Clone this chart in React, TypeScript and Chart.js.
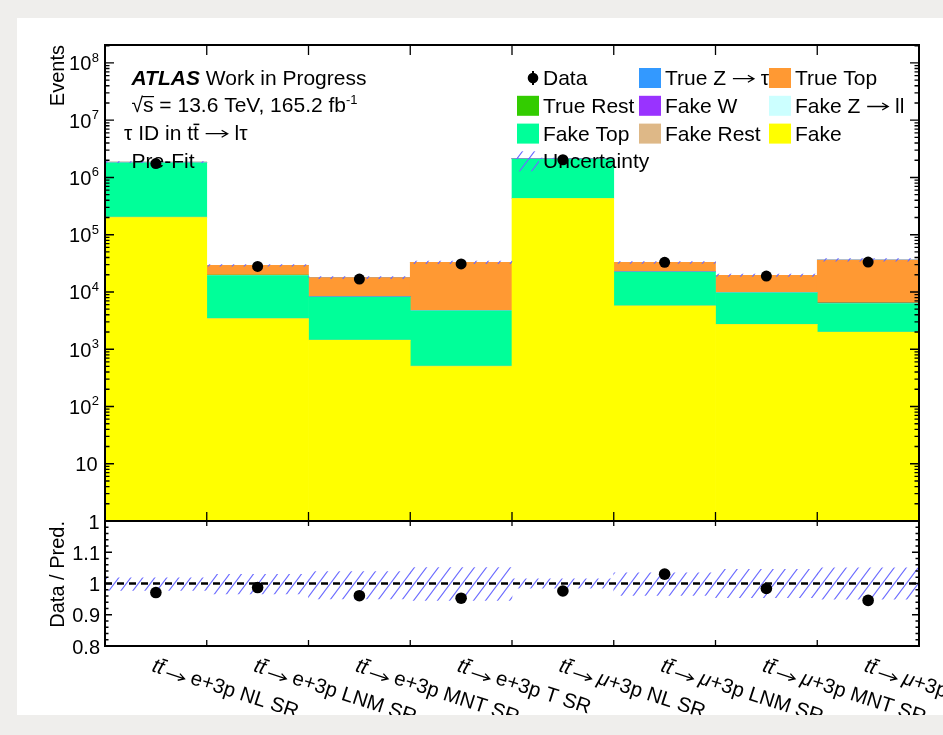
import React, { useEffect, useRef } from "react";
import { Chart, registerables } from "chart.js";

Chart.register(...registerables);

const FONT = '"Liberation Sans", Arial, Helvetica, sans-serif';

// ---------------- data ----------------
const categories = [
  "tt̄ → e+3p NL SR",
  "tt̄ → e+3p LNM SR",
  "tt̄ → e+3p MNT SR",
  "tt̄ → e+3p T SR",
  "tt̄ → μ+3p NL SR",
  "tt̄ → μ+3p LNM SR",
  "tt̄ → μ+3p MNT SR",
  "tt̄ → μ+3p T SR",
];

// stacked predictions (bottom to top)
const fake = [2.0e5, 3400, 1430, 500, 4.3e5, 5700, 2690, 1970];
const fakeRest = [3000, 30, 15, 10, 3000, 40, 20, 15];
const fakeTop = [1.6e6, 15900, 6720, 4160, 1.67e6, 16600, 6910, 4280];
const fakeZll = [500, 20, 10, 5, 600, 20, 10, 10];
const fakeW = [20000, 250, 120, 80, 25000, 350, 150, 120];
const trueRest = [5000, 100, 60, 50, 6000, 120, 60, 60];
const trueTop = [30000, 9500, 9500, 28000, 20000, 10000, 9700, 29800];
const trueZtt = [2000, 80, 50, 60, 2500, 90, 60, 70];

const dataCounts = [1.75e6, 28000, 16800, 30900, 2.04e6, 32900, 19000, 33300];
const ratioValues = [0.971, 0.987, 0.961, 0.953, 0.976, 1.03, 0.984, 0.946];
const relUncUp = [0.018, 0.029, 0.038, 0.051, 0.015, 0.034, 0.045, 0.05];
const relUncDown = [0.022, 0.033, 0.049, 0.054, 0.015, 0.038, 0.045, 0.05];

const mainDecades = [0, 1, 2, 3, 4, 5, 6, 7, 8];
const ratioTickLabels = [0.8, 0.9, 1.0, 1.1];
const yMin = 1;
const yMax = 2.06e8;
const rMin = 0.8;
const rMax = 1.2;

const seriesDefs = [
  { label: "Fake", data: fake, color: "#ffff00" },
  { label: "Fake Rest", data: fakeRest, color: "#deb887" },
  { label: "Fake Top", data: fakeTop, color: "#00ff99" },
  { label: "Fake Z → ll", data: fakeZll, color: "#ccffff" },
  { label: "Fake W", data: fakeW, color: "#9933ff" },
  { label: "True Rest", data: trueRest, color: "#33cc00" },
  { label: "True Top", data: trueTop, color: "#ff9933" },
  { label: "True Z → ττ", data: trueZtt, color: "#3399ff" },
];

const legendRows = [
  ["Data", "True Z → ττ", "True Top"],
  ["True Rest", "Fake W", "Fake Z → ll"],
  ["Fake Top", "Fake Rest", "Fake"],
  ["Uncertainty"],
];

// ---------------- helpers ----------------
function makeHatch(ctxSrc: HTMLCanvasElement): CanvasPattern | string {
  const c = document.createElement("canvas");
  c.width = 12;
  c.height = 16;
  const g = c.getContext("2d");
  if (!g) return "rgba(100,100,255,0.5)";
  g.strokeStyle = "#6b6bff";
  g.lineWidth = 1.1;
  g.beginPath();
  g.moveTo(0, 16);
  g.lineTo(12, 0);
  g.moveTo(-1.5, 2);
  g.lineTo(1.5, -2);
  g.moveTo(10.5, 18);
  g.lineTo(13.5, 14);
  g.stroke();
  const p = ctxSrc.getContext("2d")!.createPattern(c, "repeat");
  return p || "rgba(100,100,255,0.5)";
}

function drawArrow(ctx: CanvasRenderingContext2D, x: number, y: number, len: number) {
  ctx.save();
  ctx.strokeStyle = "#000";
  ctx.lineWidth = 1.3;
  ctx.beginPath();
  ctx.moveTo(x, y);
  ctx.lineTo(x + len, y);
  ctx.moveTo(x + len - 6, y - 3.5);
  ctx.lineTo(x + len, y);
  ctx.lineTo(x + len - 6, y + 3.5);
  ctx.stroke();
  ctx.restore();
}

type Run = { t: string; f?: string; dy?: number; bar?: boolean; arrow?: number };
function drawRuns(ctx: CanvasRenderingContext2D, x: number, y: number, runs: Run[], size = 21) {
  let cx = x;
  for (const r of runs) {
    ctx.font = r.f || `${size}px ${FONT}`;
    if (r.arrow) {
      drawArrow(ctx, cx + 1, y - size * 0.3, r.arrow - 2);
      cx += r.arrow;
      continue;
    }
    ctx.fillText(r.t, cx, y + (r.dy || 0));
    const w = ctx.measureText(r.t).width;
    if (r.bar) ctx.fillRect(cx + 0.5, y - size * 0.78, w, 1.5);
    cx += w;
  }
  return cx;
}

function splitLegend(name: string): Run[] {
  if (!name.includes("→")) return [{ t: name }];
  const [a, b] = name.split("→");
  return [{ t: a }, { t: "", arrow: 23 }, { t: " " + b.trim() }];
}

const X_ANGLE = (18 * Math.PI) / 180;
function drawXLabel(ctx: CanvasRenderingContext2D, x0: number, y0: number, cat: string) {
  let rest = cat.split("→")[1].trim();
  ctx.save();
  ctx.translate(x0, y0);
  ctx.rotate(X_ANGLE);
  ctx.textAlign = "left";
  ctx.textBaseline = "alphabetic";
  ctx.fillStyle = "#000";
  ctx.font = `italic 20.5px ${FONT}`;
  const tw = ctx.measureText("t").width;
  let cx = 0;
  ctx.fillText("t", cx, 0);
  cx += tw;
  ctx.fillText("t", cx, 0);
  ctx.fillRect(cx + 1.8, -15.5, tw, 1.6);
  cx += tw + 4;
  drawArrow(ctx, cx, -3, 19);
  cx += 25;
  if (rest.startsWith("μ")) {
    ctx.font = `italic 20.5px ${FONT}`;
    ctx.fillText("μ", cx, 0);
    cx += ctx.measureText("μ").width;
    rest = rest.slice(1);
  }
  ctx.font = `20.5px ${FONT}`;
  ctx.fillText(rest, cx, 0);
  ctx.restore();
}

function sumStacks(): number[] {
  return categories.map((_, i) => seriesDefs.reduce((s, d) => s + d.data[i], 0));
}

// ---------------- component ----------------
export default function App() {
  const mainRef = useRef<HTMLCanvasElement>(null);
  const ratioRef = useRef<HTMLCanvasElement>(null);

  useEffect(() => {
    if (!mainRef.current || !ratioRef.current) return;
    const hatch = makeHatch(mainRef.current);
    const total = sumStacks();
    const DATA_INDEX = seriesDefs.length + 1;

    const mainDecor = {
      id: "mainDecor",
      beforeDatasetDraw(chart: any, args: any) {
        if (args.index !== DATA_INDEX) return;
        const ctx: CanvasRenderingContext2D = chart.ctx;
        ctx.save();
        ctx.fillStyle = "#000";
        ctx.textAlign = "left";
        ctx.textBaseline = "alphabetic";
        // text block
        drawRuns(ctx, 131.5, 84.5, [
          { t: "ATLAS", f: `italic bold 21px ${FONT}` },
          { t: " Work in Progress" },
        ]);
        const sq0 = 131.5;
        ctx.font = `21px ${FONT}`;
        ctx.fillText("√", sq0, 112);
        const sqW = ctx.measureText("√").width;
        const sW = ctx.measureText("s").width;
        ctx.fillRect(sq0 + sqW - 1, 96, sW + 1.5, 1.2);
        drawRuns(ctx, sq0 + sqW, 112, [
          { t: "s = 13.6 TeV, 165.2 fb" },
          { t: "-1", f: `13px ${FONT}`, dy: -8.5 },
        ]);
        drawRuns(ctx, 124, 140, [
          { t: "τ ID in t" },
          { t: "t", bar: true },
          { t: " " },
          { t: "", arrow: 24 },
          { t: " lτ" },
        ]);
        drawRuns(ctx, 131.5, 168, [{ t: "Pre-Fit" }]);

        // legend
        const boxX = [517, 639, 769];
        const textX = [543, 665, 795];
        const baseY = [85, 112.8, 140.6, 168.3];
        for (let col = 0; col < 3; col++) {
          for (let row = 0; row < legendRows.length; row++) {
            const name = legendRows[row][col];
            if (!name) continue;
            const by = baseY[row];
            if (name === "Data") {
              ctx.strokeStyle = "#000";
              ctx.lineWidth = 2;
              ctx.beginPath();
              ctx.moveTo(533, by - 14);
              ctx.lineTo(533, by);
              ctx.stroke();
              ctx.beginPath();
              ctx.arc(533, by - 7, 5.3, 0, Math.PI * 2);
              ctx.fill();
            } else if (name === "Uncertainty") {
              ctx.save();
              ctx.fillStyle = hatch as any;
              ctx.fillRect(boxX[col], by - 17, 22, 20);
              ctx.restore();
            } else {
              const def = seriesDefs.find((d) => d.label === name);
              ctx.fillStyle = def ? def.color : "#000";
              ctx.fillRect(boxX[col], by - 17, 22, 20);
              ctx.fillStyle = "#000";
            }
            ctx.fillStyle = "#000";
            drawRuns(ctx, textX[col], by, splitLegend(name));
          }
        }
        ctx.restore();
      },
      afterDraw(chart: any) {
        const ctx: CanvasRenderingContext2D = chart.ctx;
        const a = chart.chartArea;
        const xs = chart.scales.x;
        const ys = chart.scales.y;
        ctx.save();
        ctx.strokeStyle = "#000";
        ctx.lineWidth = 1.3;
        ctx.beginPath();
        for (const e of mainDecades) {
          for (let m = 1; m <= 9; m++) {
            const v = m * Math.pow(10, e);
            if (v > ys.max) break;
            const py = ys.getPixelForValue(v);
            const len = m === 1 ? 9 : 4.5;
            ctx.moveTo(a.left, py);
            ctx.lineTo(a.left + len, py);
            ctx.moveTo(a.right, py);
            ctx.lineTo(a.right - len, py);
          }
        }
        for (let i = 1; i < categories.length; i++) {
          const px = (xs.getPixelForValue(i - 1) + xs.getPixelForValue(i)) / 2;
          ctx.moveTo(px, a.top);
          ctx.lineTo(px, a.top + 10);
          ctx.moveTo(px, a.bottom);
          ctx.lineTo(px, a.bottom - 9);
        }
        ctx.stroke();
        ctx.lineWidth = 2;
        ctx.strokeRect(a.left, a.top, a.right - a.left, a.bottom - a.top);

        // y labels
        ctx.fillStyle = "#000";
        ctx.textBaseline = "alphabetic";
        for (const e of mainDecades) {
          const py = ys.getPixelForValue(Math.pow(10, e));
          const base = py + 7.5;
          if (e === 0) {
            ctx.font = `20px ${FONT}`;
            ctx.textAlign = "right";
            ctx.fillText("1", 99.5, base);
          } else if (e === 1) {
            ctx.font = `20px ${FONT}`;
            ctx.textAlign = "right";
            ctx.fillText("10", 97.5, base);
          } else {
            ctx.font = `13px ${FONT}`;
            const sw = ctx.measureText(String(e)).width;
            ctx.textAlign = "left";
            ctx.fillText(String(e), 99 - sw, py - 1);
            ctx.font = `20px ${FONT}`;
            ctx.textAlign = "right";
            ctx.fillText("10", 99 - sw - 0.5, base);
          }
        }
        // axis title
        ctx.save();
        ctx.translate(63.5, a.top);
        ctx.rotate(-Math.PI / 2);
        ctx.textAlign = "right";
        ctx.font = `20px ${FONT}`;
        ctx.fillText("Events", 0, 0);
        ctx.restore();
        ctx.restore();
      },
    };

    const bandMain = total.map((t, i) => [t * (1 - relUncDown[i]), t * (1 + relUncUp[i])]);

    const mainChart = new Chart(mainRef.current, {
      type: "bar",
      data: {
        labels: categories,
        datasets: [
          ...seriesDefs.map((d) => ({
            type: "bar" as const,
            label: d.label,
            data: d.data,
            backgroundColor: d.color,
            borderWidth: 0,
            stack: "mc",
            order: 2,
            barPercentage: 1,
            categoryPercentage: 1,
          })),
          {
            type: "bar" as const,
            label: "Uncertainty",
            data: bandMain as any,
            backgroundColor: hatch as any,
            borderWidth: 0,
            stack: "unc",
            grouped: false,
            order: 1,
            barPercentage: 1,
            categoryPercentage: 1,
          },
          {
            type: "line" as const,
            label: "Data",
            data: dataCounts,
            showLine: false,
            pointRadius: 5.5,
            pointBackgroundColor: "#000",
            pointBorderColor: "#000",
            pointBorderWidth: 0,
            order: 0,
          },
        ],
      } as any,
      options: {
        responsive: false,
        animation: false,
        devicePixelRatio: 1,
        layout: { padding: { left: 105, right: 24, top: 45, bottom: 214 } },
        plugins: {
          legend: { display: false },
          tooltip: { enabled: false },
          title: { display: false },
        },
        scales: {
          x: { type: "category", display: false, offset: true, stacked: true },
          y: { type: "logarithmic", display: false, min: yMin, max: yMax, stacked: true },
        },
      } as any,
      plugins: [mainDecor as any],
    });

    // ratio panel
    const bandRatio = categories.map((_, i) => [1 - relUncDown[i], 1 + relUncUp[i]]);
    const ratioDecor = {
      id: "ratioDecor",
      beforeDatasetDraw(chart: any, args: any) {
        if (args.index !== 1) return;
        const ctx: CanvasRenderingContext2D = chart.ctx;
        const a = chart.chartArea;
        const py = chart.scales.y.getPixelForValue(1);
        ctx.save();
        ctx.strokeStyle = "#000";
        ctx.lineWidth = 2.6;
        ctx.setLineDash([7, 5]);
        ctx.beginPath();
        ctx.moveTo(a.left, py);
        ctx.lineTo(a.right, py);
        ctx.stroke();
        ctx.restore();
      },
      afterDraw(chart: any) {
        const ctx: CanvasRenderingContext2D = chart.ctx;
        const a = chart.chartArea;
        const xs = chart.scales.x;
        const ys = chart.scales.y;
        ctx.save();
        ctx.strokeStyle = "#000";
        ctx.lineWidth = 1.3;
        ctx.beginPath();
        for (let k = 0; k <= 20; k++) {
          const v = rMin + k * 0.02;
          const py = ys.getPixelForValue(v);
          const len = k % 5 === 0 ? 7 : 3.5;
          ctx.moveTo(a.left, py);
          ctx.lineTo(a.left + len, py);
          ctx.moveTo(a.right, py);
          ctx.lineTo(a.right - len, py);
        }
        for (let i = 1; i < categories.length; i++) {
          const px = (xs.getPixelForValue(i - 1) + xs.getPixelForValue(i)) / 2;
          ctx.moveTo(px, a.top);
          ctx.lineTo(px, a.top + 5);
          ctx.moveTo(px, a.bottom);
          ctx.lineTo(px, a.bottom - 6);
        }
        ctx.stroke();
        ctx.lineWidth = 2;
        ctx.strokeRect(a.left, a.top, a.right - a.left, a.bottom - a.top);

        ctx.fillStyle = "#000";
        ctx.font = `20px ${FONT}`;
        ctx.textAlign = "right";
        ctx.textBaseline = "alphabetic";
        for (const v of ratioTickLabels) {
          const py = ys.getPixelForValue(v);
          const txt = v === 1 ? "1" : v.toFixed(1);
          ctx.fillText(txt, 100, py + 7.5);
        }
        ctx.save();
        ctx.translate(63.5, a.top);
        ctx.rotate(-Math.PI / 2);
        ctx.textAlign = "right";
        ctx.fillText("Data / Pred.", 0, 0);
        ctx.restore();

        for (let i = 0; i < categories.length; i++) {
          drawXLabel(ctx, xs.getPixelForValue(i) - 5, 671, categories[i]);
        }
        ctx.restore();
      },
    };

    const ratioChart = new Chart(ratioRef.current, {
      type: "bar",
      data: {
        labels: categories,
        datasets: [
          {
            type: "bar" as const,
            label: "Uncertainty",
            data: bandRatio as any,
            backgroundColor: hatch as any,
            borderWidth: 0,
            barPercentage: 1,
            categoryPercentage: 1,
            order: 1,
          },
          {
            type: "line" as const,
            label: "Data / Pred.",
            data: ratioValues,
            showLine: false,
            pointRadius: 5.8,
            pointBackgroundColor: "#000",
            pointBorderColor: "#000",
            pointBorderWidth: 0,
            order: 0,
          },
        ],
      } as any,
      options: {
        responsive: false,
        animation: false,
        devicePixelRatio: 1,
        layout: { padding: { left: 105, right: 24, top: 521, bottom: 89 } },
        plugins: {
          legend: { display: false },
          tooltip: { enabled: false },
          title: { display: false },
        },
        scales: {
          x: { type: "category", display: false, offset: true },
          y: { type: "linear", display: false, min: rMin, max: rMax },
        },
      } as any,
      plugins: [ratioDecor as any],
    });

    return () => {
      mainChart.destroy();
      ratioChart.destroy();
    };
  }, []);

  return (
    <div
      style={{
        position: "absolute",
        left: 0,
        top: 0,
        width: 943,
        height: 735,
        background: "#efeeec",
        overflow: "hidden",
      }}
    >
      <div
        style={{ position: "absolute", left: 17, top: 18, width: 926, height: 697, background: "#ffffff" }}
      />
      <canvas
        ref={mainRef}
        width={943}
        height={735}
        style={{ position: "absolute", left: 0, top: 0 }}
      />
      <canvas
        ref={ratioRef}
        width={943}
        height={735}
        style={{ position: "absolute", left: 0, top: 0 }}
      />
      <div
        style={{ position: "absolute", left: 0, top: 715, width: 943, height: 20, background: "#efeeec" }}
      />
    </div>
  );
}
